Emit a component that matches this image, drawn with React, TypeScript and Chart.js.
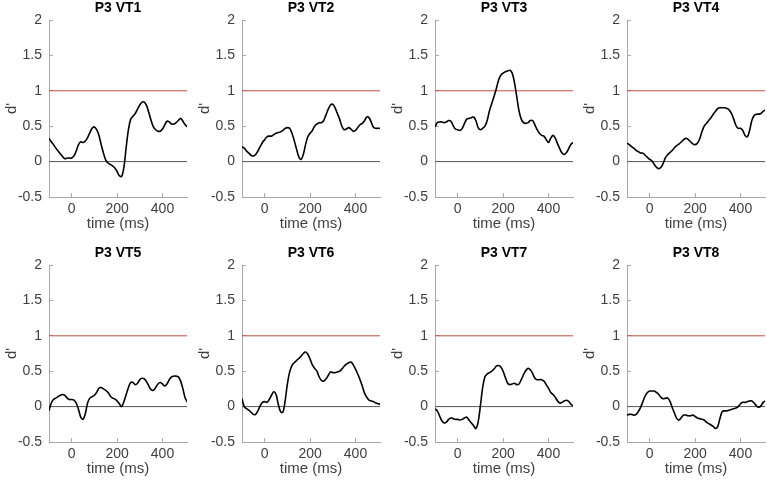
import React, { useEffect, useRef } from "react";
import { Chart, registerables } from "chart.js";

Chart.register(...registerables);

// time axis (ms), one sample every 10 ms
const TIME_MS = [
  -100, -90, -80, -70, -60, -50, -40, -30, -20, -10,
  0, 10, 20, 30, 40, 50, 60, 70, 80, 90,
  100, 110, 120, 130, 140, 150, 160, 170, 180, 190,
  200, 210, 220, 230, 240, 250, 260, 270, 280, 290,
  300, 310, 320, 330, 340, 350, 360, 370, 380, 390,
  400, 410, 420, 430, 440, 450, 460, 470, 480, 490,
  500, 510,
];

const VT1 = [
  0.33, 0.28, 0.24, 0.19, 0.15, 0.11, 0.07, 0.04, 0.05, 0.05,
  0.05, 0.08, 0.15, 0.24, 0.28, 0.27, 0.29, 0.34, 0.41, 0.47,
  0.49, 0.45, 0.37, 0.24, 0.12, 0.02, -0.02, -0.04, -0.06, -0.09,
  -0.14, -0.2, -0.21, -0.08, 0.2, 0.45, 0.6, 0.64, 0.68, 0.74,
  0.8, 0.84, 0.84, 0.79, 0.69, 0.58, 0.49, 0.45, 0.43, 0.43,
  0.46, 0.52, 0.57, 0.56, 0.53, 0.53, 0.55, 0.58, 0.61, 0.57,
  0.52, 0.49,
];

const VT2 = [
  0.21, 0.19, 0.15, 0.12, 0.09, 0.08, 0.1, 0.15, 0.21, 0.27,
  0.31, 0.35, 0.36, 0.36, 0.38, 0.4, 0.41, 0.42, 0.44, 0.47,
  0.48, 0.47, 0.4, 0.3, 0.18, 0.07, 0.03, 0.1, 0.24, 0.35,
  0.4, 0.44, 0.5, 0.53, 0.55, 0.55, 0.58, 0.66, 0.74, 0.8,
  0.81, 0.76, 0.68, 0.6, 0.5, 0.45, 0.46, 0.48, 0.46, 0.43,
  0.44, 0.48, 0.52, 0.54, 0.58, 0.63, 0.62, 0.55, 0.48, 0.47,
  0.47, 0.47,
];

const VT3 = [
  0.49, 0.55, 0.56, 0.56, 0.55, 0.56, 0.58, 0.57, 0.51, 0.46,
  0.45, 0.44, 0.47, 0.54, 0.6, 0.61, 0.62, 0.63, 0.58, 0.48,
  0.45, 0.47, 0.5, 0.58, 0.72, 0.82, 0.92, 1.03, 1.15, 1.22,
  1.25, 1.27, 1.28, 1.29, 1.25, 1.12, 0.92, 0.72, 0.6, 0.55,
  0.54, 0.55, 0.58, 0.58, 0.52, 0.45, 0.4, 0.37, 0.36, 0.31,
  0.27, 0.33, 0.37, 0.33, 0.25, 0.18, 0.12, 0.1, 0.13, 0.19,
  0.25, 0.27,
];

const VT4 = [
  0.26, 0.24, 0.21, 0.19, 0.16, 0.14, 0.12, 0.12, 0.09, 0.06,
  0.03, 0.01, -0.04, -0.08, -0.1, -0.08, -0.02, 0.06, 0.1, 0.13,
  0.16, 0.2, 0.23, 0.25, 0.28, 0.31, 0.33, 0.31, 0.28, 0.25,
  0.24, 0.26, 0.32, 0.42, 0.5, 0.54, 0.58, 0.62, 0.67, 0.71,
  0.75, 0.76, 0.76, 0.76, 0.75, 0.73, 0.68, 0.6, 0.51, 0.47,
  0.47, 0.44, 0.37, 0.35, 0.44, 0.58, 0.65, 0.67, 0.67, 0.68,
  0.71, 0.73,
];

const VT5 = [
  -0.06, 0.05, 0.1, 0.12, 0.14, 0.16, 0.17, 0.16, 0.12, 0.1,
  0.1, 0.09, 0.05, -0.04, -0.15, -0.18, -0.1, 0.05, 0.12, 0.14,
  0.16, 0.2, 0.26, 0.27, 0.25, 0.23, 0.2, 0.15, 0.12, 0.11,
  0.08, 0.04, 0.0, 0.07, 0.17, 0.27, 0.34, 0.34, 0.31, 0.33,
  0.38, 0.4, 0.39, 0.35, 0.29, 0.24, 0.23, 0.27, 0.32, 0.34,
  0.32, 0.29, 0.32, 0.38, 0.42, 0.43, 0.43, 0.42, 0.36, 0.25,
  0.12, 0.06,
];

const VT6 = [
  0.11, 0.0, -0.03, -0.05, -0.08, -0.11, -0.11, -0.06, 0.01, 0.06,
  0.07, 0.06, 0.1, 0.16, 0.21, 0.17, 0.03, -0.07, -0.08, 0.08,
  0.32, 0.49, 0.58, 0.62, 0.65, 0.68, 0.71, 0.75, 0.77, 0.74,
  0.67, 0.59, 0.54, 0.5, 0.42, 0.37, 0.36, 0.39, 0.44, 0.49,
  0.48, 0.48, 0.49, 0.5, 0.53, 0.57, 0.6, 0.62, 0.63, 0.59,
  0.53, 0.46, 0.38, 0.29, 0.19, 0.13, 0.09, 0.08, 0.07, 0.05,
  0.04, 0.03,
];

const VT7 = [
  -0.03, -0.06, -0.13, -0.2, -0.23, -0.22, -0.18, -0.16, -0.17, -0.18,
  -0.18, -0.19, -0.18, -0.16, -0.15, -0.19, -0.23, -0.27, -0.31, -0.22,
  0.01, 0.27, 0.42, 0.46, 0.48, 0.5, 0.53, 0.57, 0.58, 0.56,
  0.5, 0.41, 0.33, 0.31, 0.32, 0.33, 0.31, 0.32, 0.38, 0.45,
  0.51, 0.54, 0.52, 0.47, 0.4, 0.38, 0.38, 0.38, 0.36, 0.31,
  0.26, 0.2, 0.17, 0.13, 0.08, 0.05, 0.06, 0.08, 0.09, 0.07,
  0.03, 0.01,
];

const VT8 = [
  -0.12, -0.11, -0.11, -0.12, -0.11, -0.07, -0.01, 0.07, 0.15, 0.2,
  0.22, 0.22, 0.22, 0.2, 0.17, 0.13, 0.11, 0.12, 0.12, 0.07,
  -0.02, -0.1, -0.17, -0.19, -0.15, -0.12, -0.12, -0.13, -0.13, -0.12,
  -0.14, -0.16, -0.17, -0.18, -0.19, -0.22, -0.24, -0.26, -0.28, -0.31,
  -0.28, -0.16, -0.07, -0.06, -0.06, -0.05, -0.04, -0.03, -0.02, 0.0,
  0.04, 0.06, 0.06, 0.07, 0.08, 0.08, 0.05, 0.01, -0.01, 0.01,
  0.06, 0.08,
];

const PANEL_TITLES = ["P3 VT1", "P3 VT2", "P3 VT3", "P3 VT4", "P3 VT5", "P3 VT6", "P3 VT7", "P3 VT8"];
const PANEL_SERIES = [VT1, VT2, VT3, VT4, VT5, VT6, VT7, VT8];

const THRESHOLD = 1; // red reference line
const BASELINE = 0; // gray zero line
const Y_TICKS = [-0.5, 0, 0.5, 1, 1.5, 2];
const X_TICKS = [0, 200, 400];
const X_MIN = -100;
const X_MAX = 508;
const Y_MIN = -0.5;
const Y_MAX = 2;

const X_LABEL = "time (ms)";
const Y_LABEL = "d'";

const FONT = "'Liberation Sans', Arial, Helvetica, sans-serif";
const TEXT_GRAY = "#404040";
const AXIS_GRAY = "#a8a8a8";

const CANVAS_W = 189;
const CANVAS_H = 235;
const COL_LEFT = [0, 193, 386, 578];
const ROW_TOP = [0, 245];

function Panel({ title, values, left, top }: { title: string; values: number[]; left: number; top: number }) {
  const ref = useRef<HTMLCanvasElement | null>(null);

  useEffect(() => {
    if (!ref.current) return;
    const curve = TIME_MS.map((t, i) => ({ x: t, y: values[i] }));
    const redLine = [
      { x: X_MIN, y: THRESHOLD },
      { x: X_MAX, y: THRESHOLD },
    ];
    const zeroLine = [
      { x: X_MIN, y: BASELINE },
      { x: X_MAX, y: BASELINE },
    ];
    const chart = new Chart(ref.current, {
      type: "line",
      data: {
        datasets: [
          {
            data: curve,
            borderColor: "#000000",
            borderWidth: 1.6,
            pointRadius: 0,
            tension: 0.35,
            fill: false,
          },
          {
            data: redLine,
            borderColor: "#c44a46",
            borderWidth: 1,
            pointRadius: 0,
            fill: false,
          },
          {
            data: zeroLine,
            borderColor: "#555555",
            borderWidth: 1,
            pointRadius: 0,
            fill: false,
          },
        ],
      },
      options: {
        animation: false,
        responsive: false,
        events: [],
        layout: { padding: { left: 0, right: 2, top: 0, bottom: 0 } },
        plugins: {
          legend: { display: false },
          tooltip: { enabled: false },
          title: {
            display: true,
            fullSize: false,
            text: title,
            color: "#000000",
            font: { family: FONT, size: 14, weight: "bold", lineHeight: "17px" },
            padding: { top: 0, bottom: 3 },
          },
        },
        scales: {
          x: {
            type: "linear",
            min: X_MIN,
            max: X_MAX,
            afterBuildTicks: (scale: any) => {
              scale.ticks = X_TICKS.map((v) => ({ value: v }));
            },
            afterFit: (scale: any) => {
              scale.height = 38;
            },
            ticks: {
              color: TEXT_GRAY,
              font: { family: FONT, size: 14 },
              padding: 8,
              maxRotation: 0,
              autoSkip: false,
              callback: (v: any) => String(v),
            },
            grid: {
              drawOnChartArea: false,
              drawTicks: true,
              tickLength: -4,
              color: AXIS_GRAY,
            },
            border: { color: AXIS_GRAY, width: 1 },
            title: {
              display: true,
              text: X_LABEL,
              color: TEXT_GRAY,
              font: { family: FONT, size: 15 },
              padding: { top: 0, bottom: 2 },
            },
          },
          y: {
            type: "linear",
            min: Y_MIN,
            max: Y_MAX,
            afterBuildTicks: (scale: any) => {
              scale.ticks = Y_TICKS.map((v) => ({ value: v }));
            },
            afterFit: (scale: any) => {
              scale.width = 49;
            },
            ticks: {
              color: TEXT_GRAY,
              font: { family: FONT, size: 14 },
              padding: 11,
              autoSkip: false,
              callback: (v: any) => String(v),
            },
            grid: {
              drawOnChartArea: false,
              drawTicks: true,
              tickLength: -4,
              color: AXIS_GRAY,
            },
            border: { color: AXIS_GRAY, width: 1 },
            title: {
              display: true,
              text: Y_LABEL,
              color: TEXT_GRAY,
              font: { family: FONT, size: 15 },
              padding: { top: 3, bottom: 0 },
            },
          },
        },
      },
    } as any);
    return () => chart.destroy();
  }, [title, values]);

  return (
    <canvas
      ref={ref}
      width={CANVAS_W}
      height={CANVAS_H}
      style={{ position: "absolute", left, top, width: CANVAS_W, height: CANVAS_H }}
    />
  );
}

export default function App() {
  return (
    <div
      style={{
        position: "fixed",
        left: 0,
        top: 0,
        width: 767,
        height: 480,
        background: "#ffffff",
        overflow: "hidden",
      }}
    >
      {PANEL_SERIES.map((vals, i) => (
        <Panel
          key={PANEL_TITLES[i]}
          title={PANEL_TITLES[i]}
          values={vals}
          left={COL_LEFT[i % 4]}
          top={ROW_TOP[Math.floor(i / 4)]}
        />
      ))}
    </div>
  );
}
